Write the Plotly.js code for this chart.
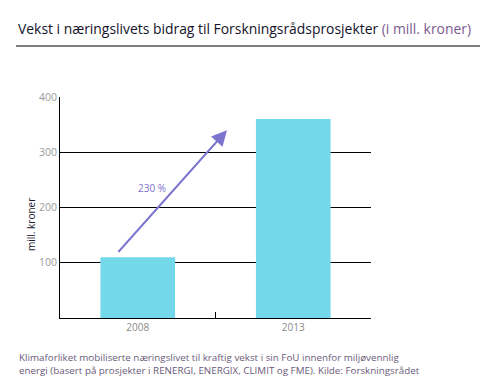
<!DOCTYPE html>
<html>
<head>
<meta charset="utf-8">
<script src="https://cdn.plot.ly/plotly-3.0.1.min.js"></script>
<style>html,body{margin:0;padding:0;background:#fff;}#chart{width:480px;height:390px;}</style>
</head>
<body>
<div id="chart"></div>
<script>
const years = ["2008", "2013"];
const values = [110, 360];
const yTicks = [100, 200, 300, 400];
const growthLabel = "230 %";

const trace = {
  type: "bar",
  x: years,
  y: values,
  width: 0.48,
  marker: {color: "#72d8ea"},
  hoverinfo: "x+y"
};

const layout = {
  width: 480,
  height: 390,
  margin: {l: 60, r: 109, t: 97, b: 72},
  paper_bgcolor: "#fff",
  plot_bgcolor: "#fff",
  showlegend: false,
  font: {family: "Open Sans, sans-serif"},
  title: {
    text: "Vekst i næringslivets bidrag til Forskningsrådsprosjekter <span style='color:#7a5a8e'>(i mill. kroner)</span>",
    font: {size: 13.9, color: "#14142a", weight: 500},
    xref: "container", yref: "container",
    x: 18/480, xanchor: "left",
    y: 1 - 29/390, yanchor: "middle"
  },
  xaxis: {
    type: "category",
    showline: true, linecolor: "#000", linewidth: 1,
    ticks: "inside", ticklen: 6, tickcolor: "#000", tickson: "boundaries",
    tickfont: {size: 10, color: "#8a8a8a"},
    showgrid: false, zeroline: false, fixedrange: true
  },
  yaxis: {
    range: [0, 400],
    tickvals: yTicks,
    showgrid: true, gridcolor: "#000", gridwidth: 1,
    showline: true, linecolor: "#000", linewidth: 1,
    zeroline: false, ticks: "",
    tickfont: {size: 10.5, color: "#9a9a9a"},
    fixedrange: true
  },
  shapes: [
    {type: "line", xref: "paper", yref: "paper", x0: (16-60)/311, x1: (480-60)/311, y0: (318-46)/221, y1: (318-46)/221, line: {color: "#000", width: 1.2}}
  ],
  annotations: [
    {xref: "x", yref: "y", x: 0.574, y: 340, ax: -0.133, ay: 117, axref: "x", ayref: "y",
     showarrow: true, arrowhead: 2, arrowsize: 1.4, arrowwidth: 2.2, arrowcolor: "#7b74cf", text: ""},
    {xref: "x", yref: "y", x: 0.09, y: 236, text: growthLabel, showarrow: false,
     font: {size: 10, color: "#7b74cf"}},
    {xref: "paper", yref: "paper", x: (22-60)/311, y: (318-225)/221, text: "mill. kroner", textangle: -90,
     showarrow: false, font: {size: 10, color: "#1c1c30"}},
    {xref: "paper", yref: "paper", x: (17-60)/311, xanchor: "left", y: (318-364)/221, yanchor: "middle", align: "left",
     text: "Klimaforliket mobiliserte næringslivet til kraftig vekst i sin FoU innenfor miljøvennlig<br>energi (basert på prosjekter i RENERGI, ENERGIX, CLIMIT og FME). Kilde: Forskningsrådet",
     showarrow: false, font: {size: 9.8, color: "#6a5a7a"}}
  ]
};

Plotly.newPlot("chart", [trace], layout, {displayModeBar: false, staticPlot: true});
</script>
</body>
</html>
